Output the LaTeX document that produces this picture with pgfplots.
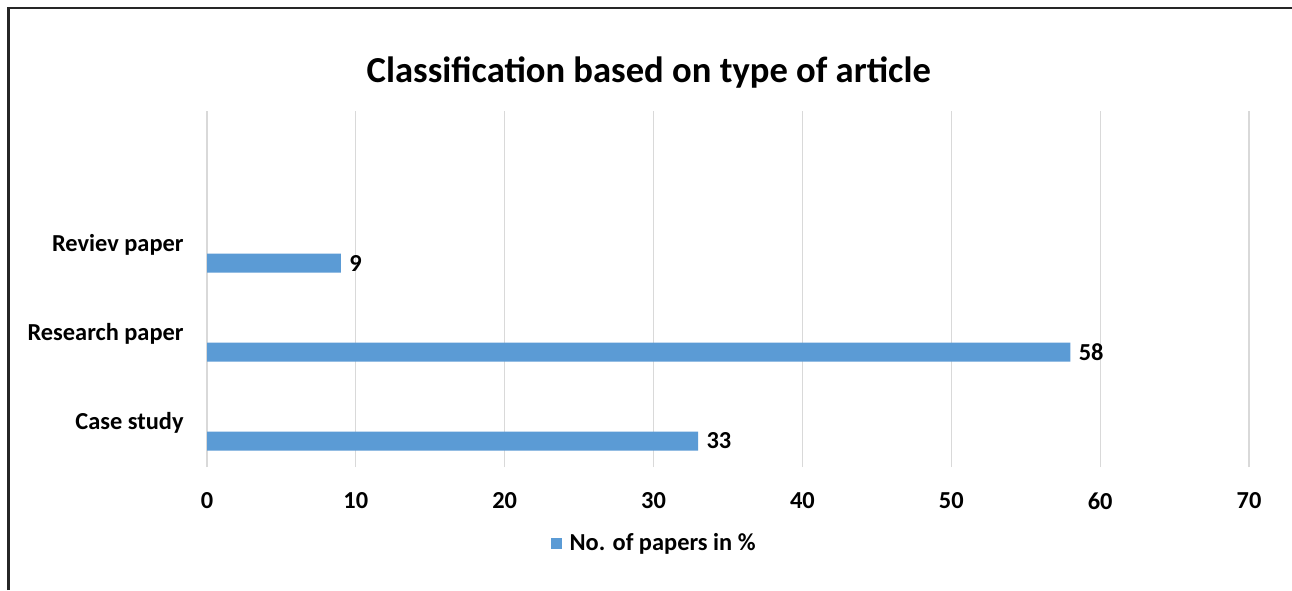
\documentclass[border=0pt]{standalone}
\usepackage{fontspec}
\setmainfont{Carlito}
\usepackage{pgfplots}
\pgfplotsset{compat=1.18}
\definecolor{barblue}{HTML}{5B9BD5}
\definecolor{gridgrey}{HTML}{D9D9D9}
\begin{document}
\begin{tikzpicture}
\useasboundingbox (0,0) rectangle (646pt,295pt);
\fill[white] (0,0) rectangle (646pt,295pt);
% chart frame (left and top edges)
\draw[line width=1.1pt, black!85] (4.25pt,0) -- (4.25pt,290.9pt) -- (646pt,290.9pt);
\begin{axis}[
  at={(103.5pt,61.5pt)}, anchor=south west,
  width=521pt, height=178pt, scale only axis,
  xmin=0, xmax=70, ymin=-0.5, ymax=3.5,
  xtick={0,10,...,70},
  ytick={0,1,2},
  yticklabels={Case study, Research paper, Reviev paper},
  major tick length=0pt,
  axis line style={draw=none},
  xmajorgrids, major grid style={gridgrey, line width=0.6pt},
  /pgf/number format/assume math mode=true,
  xticklabel style={font=\bfseries\fontsize{12.2}{15}\selectfont, inner sep=0pt, anchor=north, yshift=-12.5pt},
  yticklabel style={font=\bfseries\fontsize{12.2}{15}\selectfont, inner sep=0pt, anchor=east, xshift=-11.5pt},
  xbar, bar width=9.5pt, bar shift=-9.25pt,
  nodes near coords,
  nodes near coords style={font=\bfseries\fontsize{12.2}{15}\selectfont, anchor=west, inner sep=0pt, xshift=4pt},
  title={Classification based on type of article},
  title style={at={(0.424,1.075)}, anchor=center, yshift=0pt, font=\bfseries\fontsize{18.3}{22}\selectfont},
  legend style={draw=none, at={(0.43,-0.216)}, anchor=center, font=\bfseries\fontsize{12.2}{15}\selectfont},
  legend image code/.code={\fill[barblue] (0pt,-2.75pt) rectangle (5.5pt,2.75pt); \path (7.5pt,0pt);},
]
\addplot[fill=barblue, draw=none] coordinates {(33,0) (58,1) (9,2)};
\addlegendentry{No. of papers in \%}
\end{axis}
\end{tikzpicture}
\end{document}
